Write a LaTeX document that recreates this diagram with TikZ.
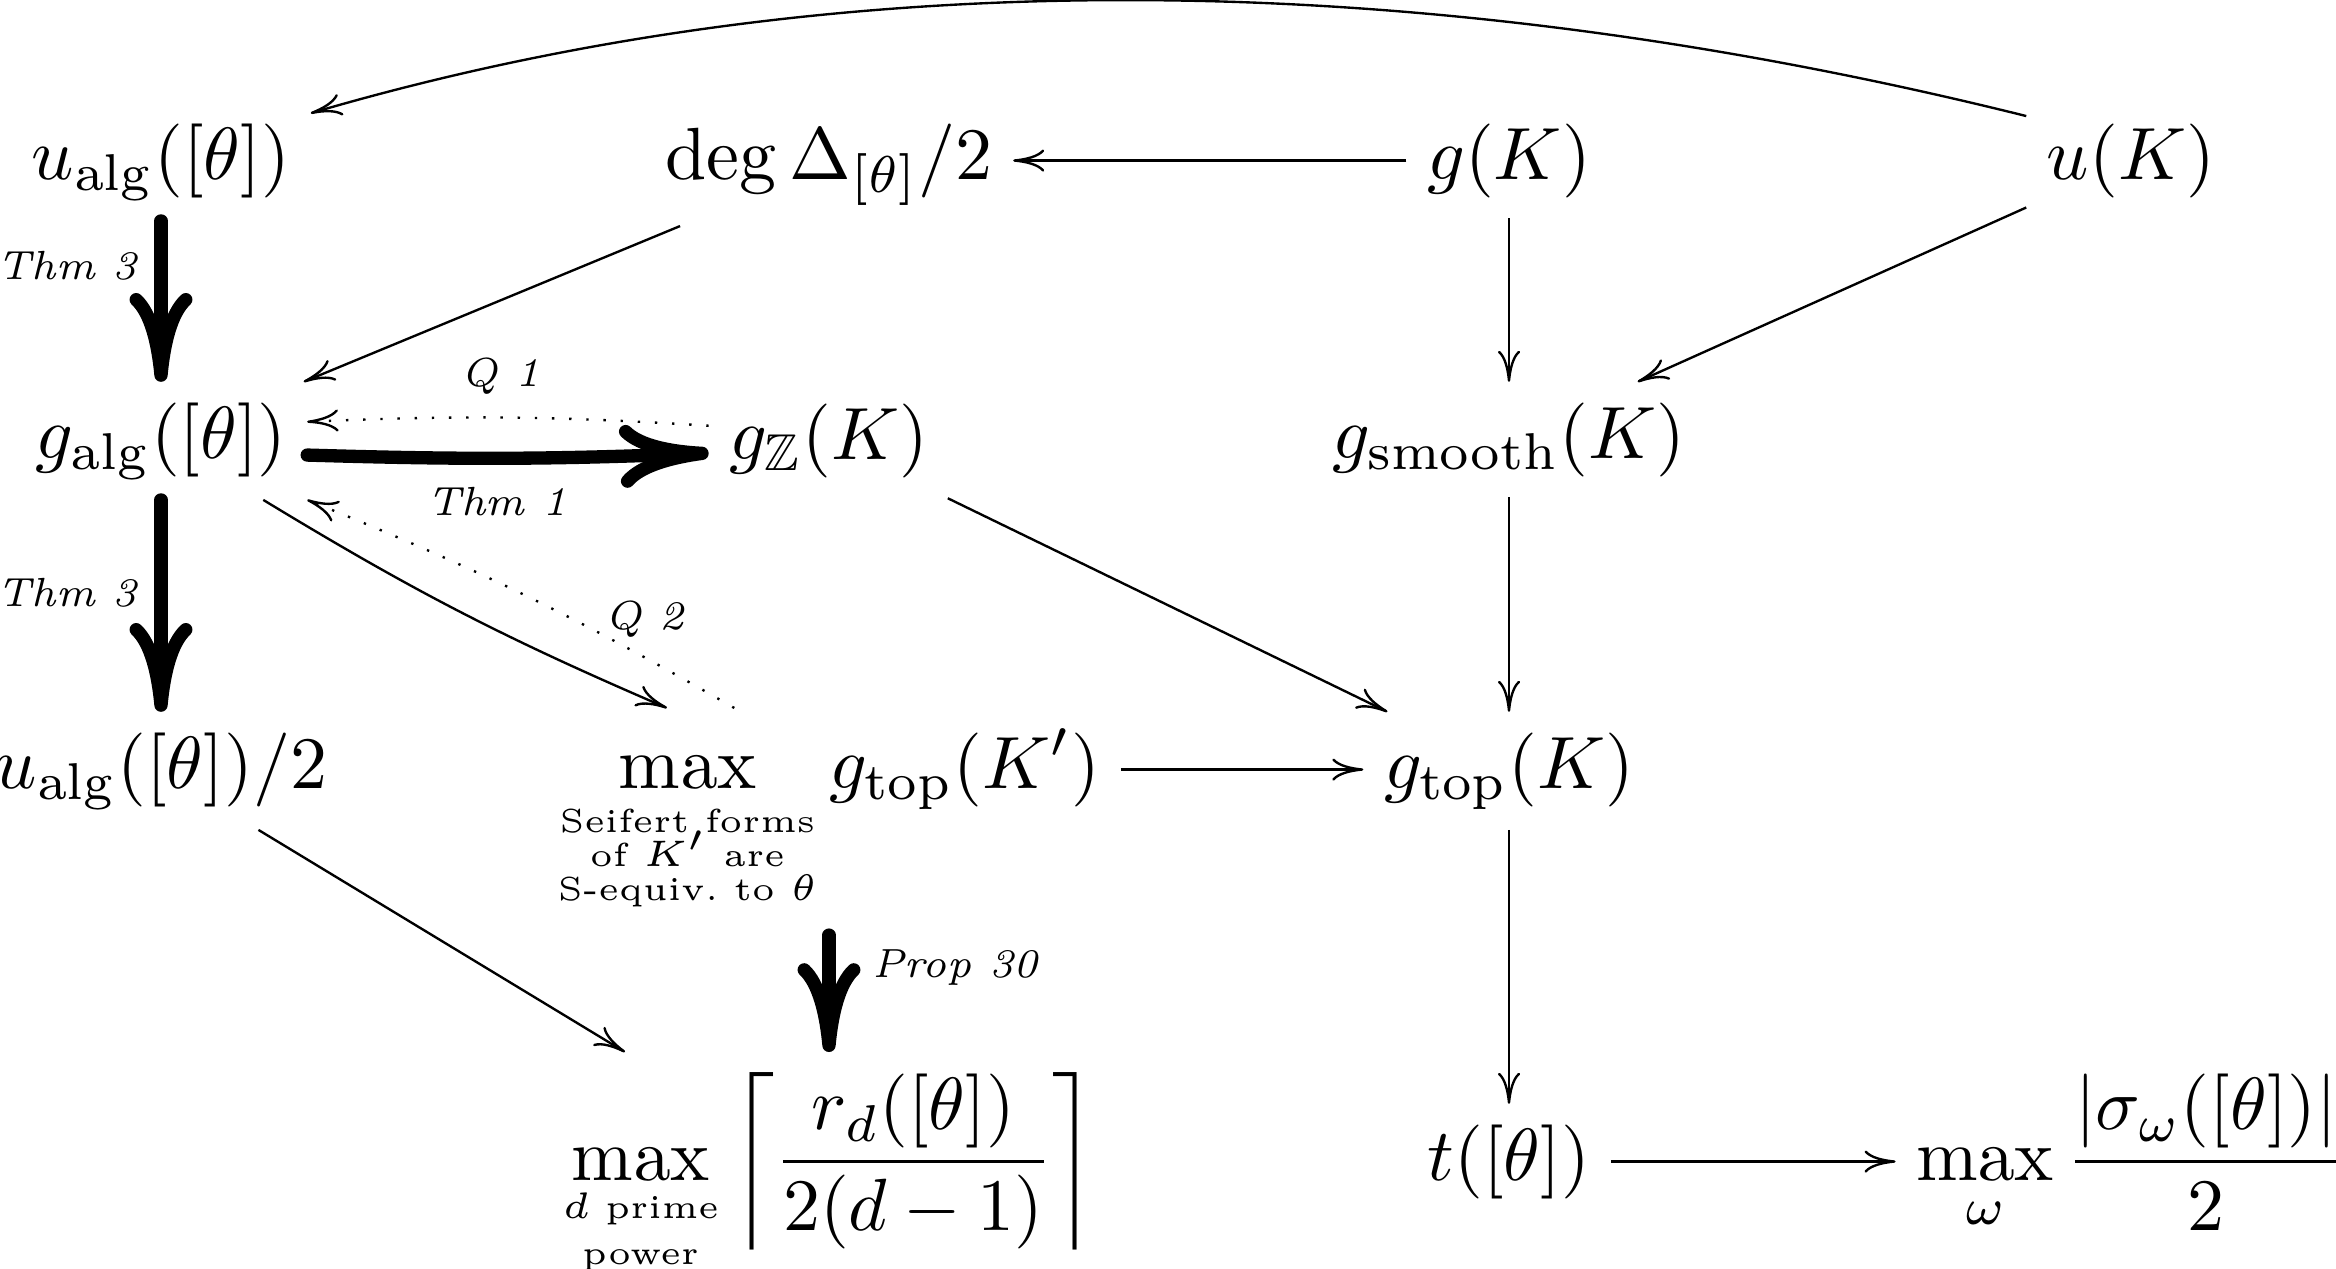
\documentclass[tikz,border=0pt]{standalone}
\usepackage{amsmath,amssymb}
\usetikzlibrary{arrows.meta,calc}
\newcommand{\myStack}[2]{\vtop{\fontsize{4.5}{#1}\selectfont\lineskiplimit=-10pt\halign{\hfil##\hfil\cr#2\crcr}}}
\begin{document}
\begin{tikzpicture}[x=0.135135pt,y=-0.135135pt,
  cell/.style={inner sep=2.6pt, anchor=base},
  arr/.style={line width=0.32pt, -{Computer Modern Rightarrow[length=4.2pt,width=3pt]}},
  dots/.style={arr, dotted},
  thk/.style={line width=1.8pt, line cap=round, -{Computer Modern Rightarrow[length=12pt,width=8.5pt,round]}},
  lbl/.style={font=\fontsize{5.5}{6.5}\selectfont\itshape, inner sep=1pt}]
\useasboundingbox (0,0) rectangle (2336,1268);
% nodes
\node[cell] (ualg) at (161,179) {$u_{\mathrm{alg}}([\theta])$};
\node[cell] (deg) at (829,179) {$\deg\Delta_{[\theta]}/2$};
\node[cell] (gK) at (1509,179) {$g(K)$};
\node[cell] (uK) at (2131,179) {$u(K)$};
\node[cell] (galg) at (161,458) {$g_{\mathrm{alg}}([\theta])$};
\node[cell] (gZ) at (829,459) {$g_{\mathbb{Z}}(K)$};
\node[cell] (gsm) at (1509,458) {$g_{\mathrm{smooth}}(K)$};
\node[cell] (ualgh) at (161,788) {$u_{\mathrm{alg}}([\theta])/2$};
\node[cell] (maxS) at (829,788) {$\displaystyle\max_{\myStack{4.6pt}{Seifert forms\cr of $K'$ are\cr S-equiv.\ to $\theta$}} g_{\mathrm{top}}(K')$};
\node[cell] (gtop) at (1509,788) {$g_{\mathrm{top}}(K)$};
\node[cell] (maxD) at (829,1180) {$\displaystyle\max_{\raisebox{1.5pt}{\myStack{6.3pt}{$d$ prime\cr power}}}\left\lceil\frac{r_d([\theta])}{2(d-1)}\right\rceil$};
\node[cell] (t) at (1509,1180) {$t([\theta])$};
\node[cell] (maxW) at (2131,1180) {$\displaystyle\max_{\omega}\frac{|\sigma_\omega([\theta])|}{2}$};
% connectors
\draw[arr] (uK.157) .. controls (1400,-40) and (820,-36) .. (ualg.18);
\draw[arr] ([yshift=2.5pt]gK.base west) -- ([yshift=2.5pt]deg.base east);
\draw[arr] (deg) -- (galg);
\draw[arr] (gK) -- (gsm);
\draw[arr] (uK) -- (gsm);
\draw[thk] (ualg) -- (galg) node[lbl,pos=0.28,left=1.3pt]{Thm 3};
\draw[thk] ([yshift=0.4pt]galg.base east) to[bend right=2] node[lbl,pos=0.47,below=2pt]{Thm 1} ([yshift=0.8pt]gZ.base west);
\draw[dots] ([yshift=4.5pt]gZ.base west) to[bend right=3] node[lbl,pos=0.52,above=2pt]{Q 1} ([yshift=4.9pt]galg.base east);
\draw[arr] (galg.-30) to[bend right=4] ([xshift=-21.9pt]maxS.north);
\draw[dots] ([xshift=-12.8pt]maxS.north) to[bend right=4] node[lbl,pos=0.2,above=1.6pt]{Q 2} (galg.south east);
\draw[thk] (galg) -- (ualgh) node[lbl,pos=0.44,left=1.3pt]{Thm 3};
\draw[arr] (gZ) -- (gtop);
\draw[arr] (gsm) -- (gtop);
\draw[arr] ([yshift=2.5pt]maxS.base east) -- ([yshift=2.5pt]gtop.base west);
\draw[arr] (ualgh) -- (maxD);
\draw[thk] (maxS.south) -- (maxS.south |- maxD.north) node[lbl,pos=0.28,right=4pt]{Prop 30};
\draw[arr] (gtop) -- (t);
\draw[arr] ([yshift=2.5pt]t.base east) -- ([yshift=2.5pt]maxW.base west);
\end{tikzpicture}
\end{document}
